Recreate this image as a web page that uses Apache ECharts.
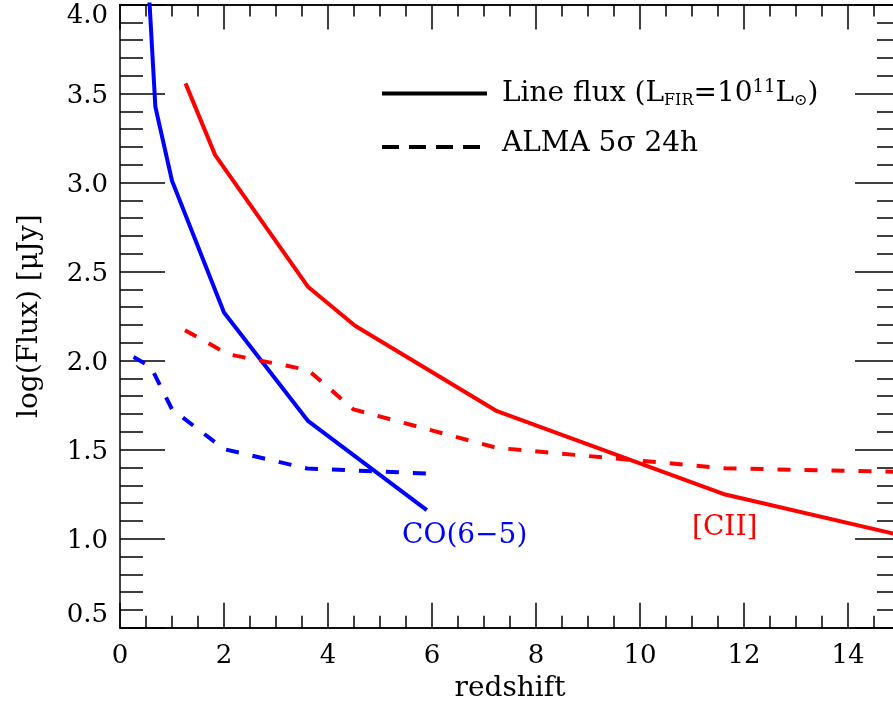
<!DOCTYPE html>
<html>
<head>
<meta charset="utf-8">
<script src="https://cdn.jsdelivr.net/npm/echarts@6/dist/echarts.min.js"></script>
<style>
html,body{margin:0;padding:0;background:#fff;}
#c{width:893px;height:715px;}
</style>
</head>
<body>
<div id="c"></div>
<script>
// ---- data (redshift, log flux) ----
var coLineFlux   = [[0.5,4.36],[0.68,3.426],[1.0,3.01],[2.0,2.27],[3.62,1.66],[5.9,1.16]];
var coAlma       = [[0.26,2.02],[0.59,1.966],[1.0,1.727],[2.0,1.503],[3.6,1.394],[5.9,1.366]];
var ciiLineFlux  = [[1.26,3.557],[1.83,3.154],[3.62,2.413],[4.52,2.196],[7.25,1.716],[11.64,1.248],[15,1.02]];
var ciiAlma      = [[1.25,2.171],[2.08,2.036],[3.62,1.947],[4.49,1.726],[7.25,1.51],[11.64,1.395],[15,1.375]];
var xRange = [0, 15];
var yRange = [0.5, 4.0];
var xMajor = 2, xMinor = 0.5, yMajor = 0.5;
var legendNames = ['Line flux', 'ALMA'];
var coLabel = 'CO(6\u22125)';
var ciiLabel = '[CII]';
var xTitle = 'redshift';
var yTitle = 'log(Flux) [\u03BCJy]';

var FONT = 'DejaVu Serif';
var chart = echarts.init(document.getElementById('c'), null, {renderer:'canvas'});
function axLine(){ return {show:true, onZero:false, lineStyle:{color:'#000', width:1.5}}; }
function xAx(pos, step, len, labels){
  return {
    type:'value', position:pos, min:xRange[0], max:xRange[1], interval:step,
    axisLine: axLine(), splitLine:{show:false},
    axisTick:{show:true, inside:true, length:len, lineStyle:{color:'#000', width:1.5}},
    axisLabel: labels ? {show:true, color:'#000', fontFamily:FONT, fontSize:26, margin:16,
      formatter:function(v){ return v===15 ? '' : String(v); }} : {show:false},
    name: labels ? xTitle : '', nameLocation:'middle', nameGap:46,
    nameTextStyle:{color:'#000', fontFamily:FONT, fontSize:28}
  };
}
var yRich = {
  n:{fontFamily:FONT, fontSize:26, color:'#000', padding:[6,0,0,0]},
  hi:{fontFamily:FONT, fontSize:26, color:'#000', padding:[24,0,0,0]},
  lo:{fontFamily:FONT, fontSize:26, color:'#000', padding:[0,0,25,0]}
};
function yAx(pos, labels){
  return {
    type:'value', position:pos, min:yRange[0], max:yRange[1], interval:yMajor,
    axisLine: axLine(), splitLine:{show:false},
    axisTick:{show:true, inside:true, length:45, lineStyle:{color:'#000', width:1.5}},
    minorTick:{show:true, splitNumber:5, length:23, lineStyle:{color:'#000', width:1.5}},
    minorSplitLine:{show:false},
    axisLabel: labels ? {show:true, color:'#000', fontFamily:FONT, fontSize:26, margin:12, rich:yRich,
      formatter:function(v){
        var s = v.toFixed(1);
        if (v >= yRange[1]) return '{hi|' + s + '}';
        if (v <= yRange[0]) return '{lo|' + s + '}';
        return '{n|' + s + '}';
      }} : {show:false},
    name: labels ? yTitle : '', nameLocation:'middle', nameGap:76, nameRotate:90,
    nameTextStyle:{color:'#000', fontFamily:FONT, fontSize:28}
  };
}
var dash = [13,14];
var rich = {
  t:{fontFamily:FONT, fontSize:28, color:'#000'},
  s:{fontFamily:FONT, fontSize:16, color:'#000', verticalAlign:'bottom', padding:[13,0,0,0]},
  p:{fontFamily:FONT, fontSize:18, color:'#000', verticalAlign:'top', padding:[0,0,13,0]}
};
function legendBox(name, top, pad){
  return {
    orient:'vertical', left:380, top:top, padding:0, itemWidth:105, itemHeight:14,
    selectedMode:false, data:[name],
    itemStyle:{opacity:0},
    lineStyle:{width:4},
    textStyle:{color:'#000', fontFamily:FONT, fontSize:28, padding:pad, rich:rich},
    formatter:function(n){
      if(n==='Line flux') return '{t|Line flux (L}{s|FIR}{t|=10}{p|11}{t|L}{s|\u2299}{t|)}';
      return '{t|ALMA 5\u03C3 24h}';
    }
  };
}
var option = {
  animation:false,
  backgroundColor:'#fff',
  grid:{left:120, right:-7, top:4.5, bottom:87.3, containLabel:false, outerBoundsMode:'none'},
  xAxis:[xAx('bottom', xMajor, 25, true), xAx('bottom', xMinor, 12, false),
         xAx('top', xMajor, 25, false), xAx('top', xMinor, 12, false)],
  yAxis:[yAx('left', true), yAx('right', false)],
  legend:[legendBox(legendNames[0], 78, [0,0,0,10]), legendBox(legendNames[1], 130, [0,0,6,10])],
  graphic:[
    {type:'text', left:402, top:522, style:{text:coLabel, fill:'#0000ff', font:'28px "DejaVu Serif"'}},
    {type:'text', left:692, top:514, style:{text:ciiLabel, fill:'#ff0000', font:'28px "DejaVu Serif"'}}
  ],
  series:[
    {name:'Line flux', type:'line', data:[], symbol:'none', color:'#000', lineStyle:{color:'#000', width:4, type:'solid'}},
    {name:'ALMA', type:'line', data:[], symbol:'none', color:'#000', lineStyle:{color:'#000', width:4, type:[17,10]}},
    {name:'co', type:'line', data:coLineFlux, symbol:'none', clip:true, color:'#0000ff', lineStyle:{color:'#0000ff', width:4}},
    {name:'coA', type:'line', data:coAlma, symbol:'none', clip:true, color:'#0000ff', lineStyle:{color:'#0000ff', width:4, type:dash}},
    {name:'cii', type:'line', data:ciiLineFlux, symbol:'none', clip:true, color:'#ff0000', lineStyle:{color:'#ff0000', width:4}},
    {name:'ciiA', type:'line', data:ciiAlma, symbol:'none', clip:true, color:'#ff0000', lineStyle:{color:'#ff0000', width:4, type:dash}}
  ]
};
chart.setOption(option);
</script>
</body>
</html>
